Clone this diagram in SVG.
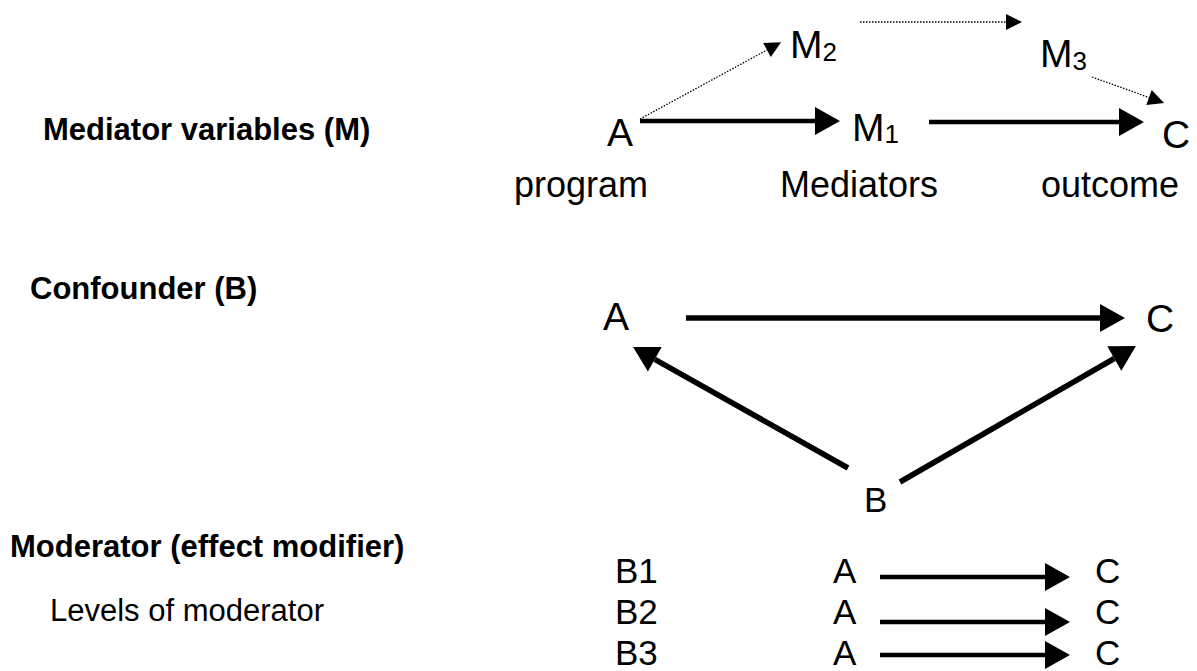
<svg xmlns="http://www.w3.org/2000/svg" width="1197" height="671" viewBox="0 0 1197 671">
<style>
.h{font-family:"Liberation Sans",Arial,sans-serif;font-weight:bold;font-size:31px;fill:#000}
.r{font-family:"Liberation Sans",Arial,sans-serif;font-size:31px;fill:#000}
.n{font-family:"Liberation Sans",Arial,sans-serif;font-size:39px;fill:#000}
.s{font-family:"Liberation Sans",Arial,sans-serif;font-size:36px;fill:#000}
.m{font-family:"Liberation Sans",Arial,sans-serif;font-size:35px;fill:#000}
.sub{font-size:26px}
.thick{stroke:#000;stroke-width:4.5;fill:none;marker-end:url(#big)}
.thick5{stroke:#000;stroke-width:5.5;fill:none;marker-end:url(#big)}
.dot{stroke:#000;stroke-width:1.3;stroke-dasharray:1.5 1.5;fill:none;marker-end:url(#small)}
</style>
<defs>
<marker id="big" markerUnits="userSpaceOnUse" markerWidth="26" markerHeight="30" refX="0" refY="14" orient="auto" overflow="visible">
<path d="M0,0 L25,14 L0,28 Z" fill="#000"/>
</marker>
<marker id="small" markerUnits="userSpaceOnUse" markerWidth="17" markerHeight="17" refX="0" refY="8" orient="auto" overflow="visible">
<path d="M0,0 L16,8 L0,16 Z" fill="#000"/>
</marker>
</defs>
<rect width="1197" height="671" fill="#fff"/>

<g id="titles">
<text class="h" x="43" y="140">Mediator variables (M)</text>
<text class="h" x="30" y="299">Confounder (B)</text>
<text class="h" x="10" y="557">Moderator (effect modifier)</text>
<text class="r" x="50" y="621">Levels of moderator</text>
</g>

<g id="connectors">
<path class="dot" d="M640,119 L767,50"/>
<path class="dot" d="M860,22 L1006,22"/>
<path class="dot" d="M1092,77 L1149,97.5"/>
<path class="thick" d="M640,121 L815,121"/>
<path class="thick" d="M929,122 L1119,122"/>
<path class="thick5" d="M686,318 L1100,318"/>
<path class="thick5" d="M848,468 L654.8,359.3"/>
<path class="thick5" d="M900,482 L1114.3,358.5"/>
<path class="thick" d="M880,577 L1045,577"/>
<path class="thick" d="M880,622 L1045,622"/>
<path class="thick" d="M880,655 L1045,655"/>
</g>

<g id="node-A1"><text class="n" x="607" y="146">A</text><text class="s" x="514" y="197">program</text></g>
<g id="node-M1"><text class="n" x="852" y="141">M<tspan class="sub" dy="2">1</tspan></text><text class="s" x="780" y="197">Mediators</text></g>
<g id="node-C1"><text class="n" x="1162" y="148">C</text><text class="s" x="1041" y="197">outcome</text></g>
<g id="node-M2"><text class="n" x="790" y="58">M<tspan class="sub" dy="3">2</tspan></text></g>
<g id="node-M3"><text class="n" x="1040" y="67">M<tspan class="sub" dy="3">3</tspan></text></g>

<g id="node-A2"><text class="n" x="603" y="330">A</text></g>
<g id="node-C2"><text class="n" x="1146" y="332">C</text></g>
<g id="node-B"><text class="m" x="864" y="512">B</text></g>

<g id="row-B1"><text class="m" x="615" y="583">B1</text><text class="m" x="833" y="583">A</text><text class="m" x="1095" y="583">C</text></g>
<g id="row-B2"><text class="m" x="615" y="624">B2</text><text class="m" x="833" y="624">A</text><text class="m" x="1095" y="624">C</text></g>
<g id="row-B3"><text class="m" x="615" y="665">B3</text><text class="m" x="833" y="665">A</text><text class="m" x="1095" y="665">C</text></g>
</svg>
